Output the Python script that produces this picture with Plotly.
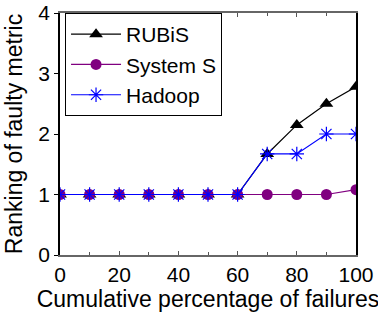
import plotly.graph_objects as go

x_pct = [0, 10, 20, 30, 40, 50, 60, 70, 80, 90, 100]
rubis = [1, 1, 1, 1, 1, 1, 1, 1.67, 2.15, 2.5, 2.78]
system_s = [1, 1, 1, 1, 1, 1, 1, 1, 1, 1, 1.08]
hadoop = [1, 1, 1, 1, 1, 1, 1, 1.67, 1.67, 2, 2]

FONT = "Liberation Sans, Arial, sans-serif"

fig = go.Figure()
fig.add_trace(go.Scatter(x=x_pct, y=rubis, name="RUBiS", mode="lines+markers",
                         line=dict(color="black", width=1.2),
                         marker=dict(symbol="triangle-up", size=12, color="black")))
fig.add_trace(go.Scatter(x=x_pct, y=system_s, name="System S", mode="lines+markers",
                         line=dict(color="#800080", width=1.2),
                         marker=dict(symbol="circle", size=11, color="#800080")))
fig.add_trace(go.Scatter(x=x_pct, y=hadoop, name="Hadoop", mode="lines+markers",
                         line=dict(color="#0000ff", width=1.2),
                         marker=dict(symbol="asterisk-open", size=12, color="#0000ff",
                                     line=dict(color="#0000ff", width=1.2))))

fig.update_layout(
    width=378, height=320,
    margin=dict(l=60, r=22, t=13, b=65),
    paper_bgcolor="white", plot_bgcolor="white",
    font=dict(family=FONT, color="black", size=22),
    showlegend=True,
    legend=dict(x=0.017, y=1, xanchor="left", yanchor="top",
                bordercolor="black", borderwidth=1, bgcolor="white",
                font=dict(size=21), tracegroupgap=0, itemwidth=50),
    xaxis=dict(range=[0, 100], tickvals=[0, 20, 40, 60, 80, 100],
               minor=dict(tickvals=[10, 30, 50, 70, 90], ticks="inside", ticklen=3, tickcolor="#555"),
               ticks="inside", ticklen=4, tickcolor="#555",
               showline=True, linecolor="#666", linewidth=1.5, mirror="ticks",
               showgrid=False, zeroline=False, automargin=False,
               ticklabeloverflow="allow",
               tickfont=dict(size=21),
               title=dict(text="Cumulative percentage of failures", font=dict(size=23), standoff=5)),
    yaxis=dict(range=[0, 4], tickvals=[0, 1, 2, 3, 4],
               ticks="outside", ticklen=4, tickcolor="black",
               showline=True, linecolor="black", linewidth=1.5, mirror=True,
               showgrid=False, zeroline=False, automargin=False,
               ticklabeloverflow="allow",
               tickfont=dict(size=21),
               title=dict(text="Ranking of faulty metric", font=dict(size=23), standoff=9)),
)

fig.write_html("out.html", config={"displayModeBar": False},
               post_script="document.body.style.margin='0';")
